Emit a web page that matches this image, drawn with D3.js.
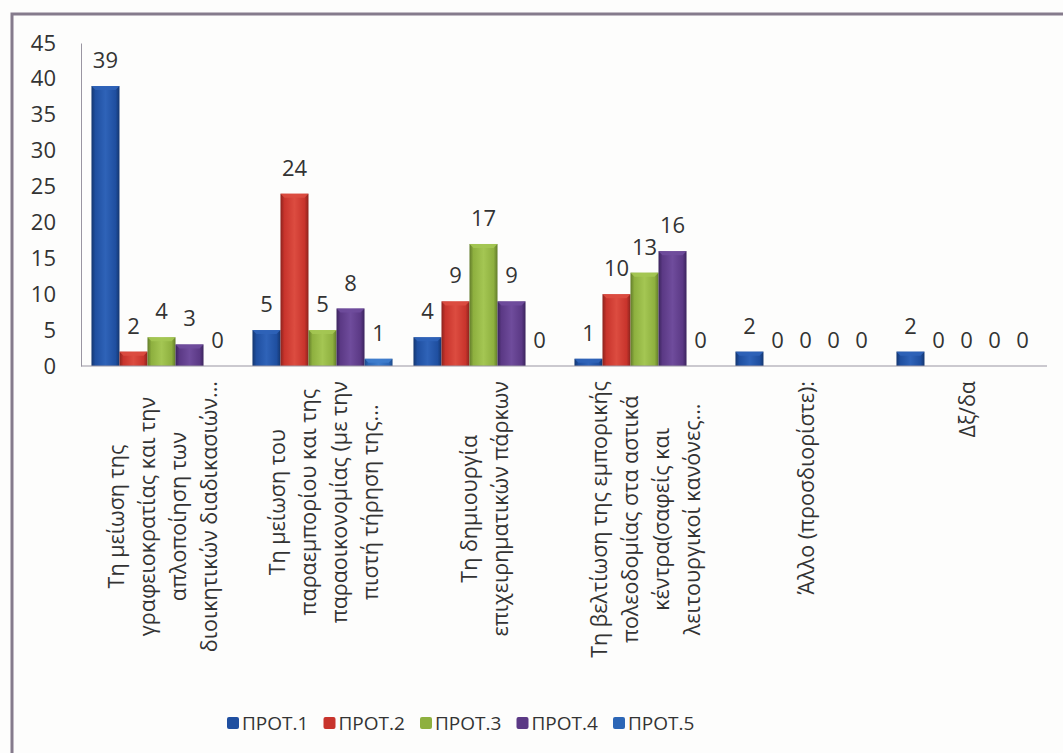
<!DOCTYPE html>
<html>
<head>
<meta charset="utf-8">
<script src="https://cdn.jsdelivr.net/npm/d3@7"></script>
<style>
  html, body { margin: 0; padding: 0; background: #fdfdfc; }
  svg { display: block; }
  text { font-family: "Open Sans", "Noto Sans", sans-serif; fill: #333333; }
</style>
</head>
<body>
<svg id="chart" width="1063" height="753"></svg>
<script>
// ---------- data ----------
const categories = [
  ["Τη μείωση της", "γραφειοκρατίας και την", "απλοποίηση των", "διοικητικών διαδικασιών..."],
  ["Τη μείωση του", "παραεμπορίου και της", "παραοικονομίας (με την", "πιστή τήρηση της..."],
  ["Τη δημιουργία", "επιχειρηματικών πάρκων"],
  ["Τη βελτίωση της εμπορικής", "πολεοδομίας στα αστικά", "κέντρα(σαφείς και", "λειτουργικοί κανόνες..."],
  ["Άλλο (προσδιορίστε):"],
  ["Δξ/δα"]
];
const seriesNames = ["ΠΡΟΤ.1", "ΠΡΟΤ.2", "ΠΡΟΤ.3", "ΠΡΟΤ.4", "ΠΡΟΤ.5"];
const prot1 = [39, 5, 4, 1, 2, 2];
const prot2 = [2, 24, 9, 10, 0, 0];
const prot3 = [4, 5, 17, 13, 0, 0];
const prot4 = [3, 8, 9, 16, 0, 0];
const prot5 = [0, 1, 0, 0, 0, 0];
const seriesValues = [prot1, prot2, prot3, prot4, prot5];
const yTicks = [0, 5, 10, 15, 20, 25, 30, 35, 40, 45];

// colours: [base, dark edge, light centre]
const colors = [
  ["#1f4fa0", "#14366f", "#2f63b8"],
  ["#c8342c", "#8c231d", "#dc4c40"],
  ["#8eb03f", "#627c2a", "#a4c653"],
  ["#5b3985", "#3b245d", "#6f4c9c"],
  ["#2c66b6", "#1d4a8a", "#3f7dcd"]
];

// ---------- layout ----------
const svg = d3.select("#chart");
const plotL = 81, plotR = 1047, plotT = 43, plotB = 366;

// frame
svg.append("path")
  .attr("d", `M12,760 L12,14 L1070,14`)
  .attr("fill", "none").attr("stroke", "#857b8c").attr("stroke-width", 3);

const x0 = d3.scaleBand().domain(d3.range(categories.length))
  .range([plotL, plotR]).paddingInner(0.13).paddingOuter(0.065);
const x1 = d3.scaleBand().domain(d3.range(seriesNames.length))
  .range([0, x0.bandwidth()]);
const y = d3.scaleLinear().domain([0, 45]).range([plotB, plotT]);

// gradients
const defs = svg.append("defs");
colors.forEach((c, i) => {
  const g = defs.append("linearGradient").attr("id", "g" + i)
    .attr("x1", 0).attr("x2", 1).attr("y1", 0).attr("y2", 0);
  g.append("stop").attr("offset", "0%").attr("stop-color", c[1]);
  g.append("stop").attr("offset", "14%").attr("stop-color", c[0]);
  g.append("stop").attr("offset", "50%").attr("stop-color", c[2]);
  g.append("stop").attr("offset", "86%").attr("stop-color", c[0]);
  g.append("stop").attr("offset", "100%").attr("stop-color", c[1]);
});

// y axis
const yAxis = d3.axisLeft(y).tickValues(yTicks).tickSize(0).tickPadding(25);
const ya = svg.append("g").attr("transform", `translate(${plotL},0)`).call(yAxis);
ya.select(".domain").attr("stroke", "#9a96a2").attr("stroke-width", 1);
ya.selectAll("text").style("font-size", "22px").attr("fill", "#333333")
  .style("font-family", '"Open Sans", sans-serif');

// bars
const groups = svg.append("g").selectAll("g")
  .data(categories).join("g")
  .attr("transform", (d, i) => `translate(${x0(i)},0)`);

groups.each(function(cat, ci) {
  const g = d3.select(this);
  seriesValues.forEach((vals, si) => {
    const v = vals[ci];
    const bx = x1(si), bw = x1.bandwidth();
    if (v > 0) {
      g.append("rect")
        .attr("x", bx).attr("y", y(v))
        .attr("width", bw).attr("height", y(0) - y(v))
        .attr("fill", `url(#g${si})`);
      const hh = Math.min(4, y(0) - y(v));
      g.append("path")
        .attr("d", `M${bx},${y(v)} L${bx + bw},${y(v)} L${bx + bw - 4},${y(v) + hh} L${bx + 4},${y(v) + hh} Z`)
        .attr("fill", colors[si][2]).attr("opacity", 0.9);
    }
    g.append("text")
      .attr("x", bx + bw / 2).attr("y", y(v) - 18)
      .attr("text-anchor", "middle")
      .style("font-size", "22px")
      .text(v);
  });
});

// x axis line
svg.append("line")
  .attr("x1", plotL).attr("x2", plotR).attr("y1", plotB).attr("y2", plotB)
  .attr("stroke", "#9a96a2").attr("stroke-width", 1.2);

// category labels (rotated, lines centred, block top-aligned under axis)
const labelTop = 381, lineH = 31;
categories.forEach((lines, ci) => {
  const cx = x0(ci) + x0.bandwidth() / 2;
  const n = lines.length;
  const g = svg.append("g");
  const texts = lines.map((l, li) => g.append("text")
    .style("font-size", "21.5px")
    .attr("text-anchor", "middle")
    .attr("dominant-baseline", "central")
    .text(l));
  const maxW = d3.max(texts, t => t.node().getComputedTextLength());
  const cy = labelTop + maxW / 2;
  texts.forEach((t, li) => {
    const lx = cx + (li - (n - 1) / 2) * lineH;
    t.attr("transform", `translate(${lx},${cy}) rotate(-90)`);
  });
});

// legend
const legendX = 227, legendY = 723, legendStep = 96.5;
const leg = svg.append("g").selectAll("g").data(seriesNames).join("g")
  .attr("transform", (d, i) => `translate(${legendX + i * legendStep},${legendY})`);
leg.append("rect").attr("x", 0).attr("y", -6).attr("width", 12).attr("height", 12)
  .attr("rx", 2).attr("fill", (d, i) => colors[i][0]);
leg.append("text").attr("x", 15).attr("y", 0).attr("dominant-baseline", "central")
  .style("font-size", "19px").text(d => d);
</script>
</body>
</html>
